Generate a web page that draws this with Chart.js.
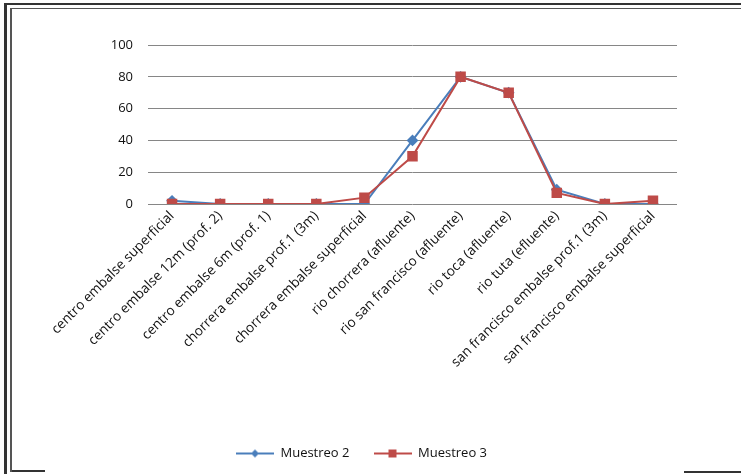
<!DOCTYPE html>
<html>
<head>
<meta charset="utf-8">
<script src="https://cdn.jsdelivr.net/npm/chart.js@4/dist/chart.umd.min.js"></script>
<style>
  html, body { margin: 0; padding: 0; background: #fff; overflow: hidden; }
  body { width: 741px; height: 474px; position: relative; }
  .ln { position: absolute; background: #333; }
  #wrap { position: absolute; left: 12px; top: 9px; width: 724px; height: 461px; }
</style>
</head>
<body>
<!-- scanned frame around the chart -->
<div class="ln" style="left:4px;top:3px;width:737px;height:2px;"></div>
<div class="ln" style="left:4px;top:3px;width:3px;height:471px;"></div>
<div class="ln" style="left:10px;top:8px;width:731px;height:1px;background:#555;"></div>
<div class="ln" style="left:10px;top:8px;width:2px;height:464px;background:#555;"></div>
<div class="ln" style="left:12px;top:470px;width:33px;height:2px;"></div>
<div class="ln" style="left:684px;top:471px;width:57px;height:2px;"></div>

<div id="wrap"><canvas id="chart"></canvas></div>

<script>
const categories = [
  'centro embalse superficial',
  'centro embalse 12m (prof. 2)',
  'centro embalse 6m (prof. 1)',
  'chorrera embalse prof.1 (3m)',
  'chorrera embalse superficial',
  'rio chorrera (afluente)',
  'rio san francisco (afluente)',
  'rio toca (afluente)',
  'rio tuta (efluente)',
  'san francisco embalse prof.1 (3m)',
  'san francisco embalse superficial'
];
const muestreo2 = [2, 0, 0, 0, 0, 40, 80, 70, 9, 0, 0];
const muestreo3 = [0, 0, 0, 0, 4, 30, 80, 70, 7, 0, 2];
const yTicks = [0, 20, 40, 60, 80, 100];

const blue = '#4a7ebb';
const red = '#be4b48';
const font = { family: 'Open Sans', size: 13 };

// legend swatch: short line with the series marker in the middle
function legendSwatch(color, style) {
  const c = document.createElement('canvas');
  c.width = 38;
  c.height = 12;
  const ctx = c.getContext('2d');
  ctx.strokeStyle = color;
  ctx.lineWidth = 2;
  ctx.beginPath();
  ctx.moveTo(0, 6);
  ctx.lineTo(38, 6);
  ctx.stroke();
  ctx.fillStyle = color;
  ctx.beginPath();
  if (style === 'diamond') {
    ctx.moveTo(19, 2); ctx.lineTo(23, 6); ctx.lineTo(19, 10); ctx.lineTo(15, 6);
  } else {
    ctx.rect(15, 2, 8, 8);
  }
  ctx.fill();
  return c;
}

const swatches = [legendSwatch(blue, 'diamond'), legendSwatch(red, 'square')];

// the legend sits a bit right of the plot centre in the original
const legendShift = {
  id: 'legendShift',
  afterLayout(chart) {
    chart.legend.left += 17;
    chart.legend.right += 17;
  }
};

new Chart(document.getElementById('chart'), {
  type: 'line',
  data: {
    labels: categories,
    datasets: [
      {
        label: 'Muestreo 2',
        data: muestreo2,
        borderColor: blue,
        backgroundColor: blue,
        borderWidth: 2,
        pointStyle: 'rectRot',
        pointRadius: 4.5,
        tension: 0,
        order: 2
      },
      {
        label: 'Muestreo 3',
        data: muestreo3,
        borderColor: red,
        backgroundColor: red,
        borderWidth: 2,
        pointStyle: 'rect',
        pointRadius: 6,
        tension: 0,
        order: 1
      }
    ]
  },
  options: {
    responsive: true,
    maintainAspectRatio: false,
    animation: false,
    layout: { padding: { top: 36, right: 59, bottom: 0, left: 0 } },
    scales: {
      x: {
        offset: true,
        grid: { display: false, drawTicks: false },
        border: { display: false },
        ticks: {
          autoSkip: false,
          minRotation: 45,
          maxRotation: 45,
          padding: 4,
          color: '#111',
          font: { family: 'Open Sans', size: 13.6 }
        },
        afterFit: (scale) => { scale.height = 219; }
      },
      y: {
        min: 0,
        max: 100,
        afterBuildTicks: (scale) => { scale.ticks = yTicks.map(v => ({ value: v })); },
        grid: { color: '#868686', lineWidth: 1, drawTicks: false },
        border: { display: false },
        ticks: { padding: 15, color: '#111', font: font },
        afterFit: (scale) => { scale.width = 136; }
      }
    },
    plugins: {
      tooltip: { enabled: false },
      legend: {
        position: 'bottom',
        labels: {
          usePointStyle: true,
          pointStyleWidth: 38,
          padding: 24,
          color: '#111',
          font: font,
          generateLabels: (chart) => {
            const items = Chart.defaults.plugins.legend.labels.generateLabels(chart);
            items.sort((a, b) => a.datasetIndex - b.datasetIndex);
            items.forEach((it) => { it.pointStyle = swatches[it.datasetIndex]; });
            return items;
          }
        }
      }
    }
  },
  plugins: [legendShift]
});
</script>
</body>
</html>
